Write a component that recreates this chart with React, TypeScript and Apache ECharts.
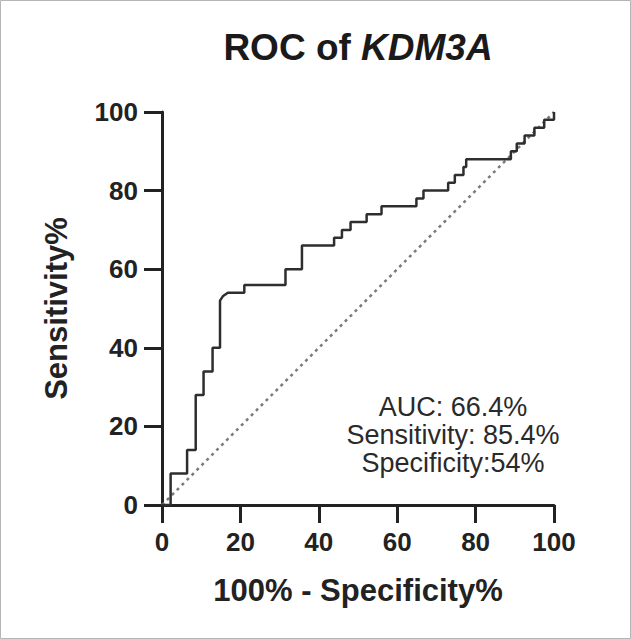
import React, { useEffect, useRef } from "react";
import * as echarts from "echarts";

const titlePlain = "ROC of ";
const titleGene = "KDM3A";
const xAxisName = "100% - Specificity%";
const yAxisName = "Sensitivity%";
const annotationLines = ["AUC: 66.4%", "Sensitivity: 85.4%", "Specificity:54%"];

// ROC curve vertices (100% - Specificity%, Sensitivity%)
const rocFpr = [
  0, 2.2, 2.2, 6.4, 6.4, 8.6, 8.6, 10.6, 10.6, 12.9, 12.9, 14.8, 14.8, 15.6, 16.8,
  21, 21, 31.5, 31.5, 35.7, 35.7, 43.9, 43.9, 45.9, 45.9, 48.1, 48.1, 52.2, 52.2,
  56, 56, 64.9, 64.9, 66.7, 66.7, 73, 73, 74.7, 74.7, 76.9, 76.9, 77.6, 77.6, 89,
  89, 90.5, 90.5, 92.5, 92.5, 95, 95, 97.5, 97.5, 100, 100,
];
const rocSens = [
  0, 0, 8, 8, 14, 14, 28, 28, 34, 34, 40, 40, 52, 53.2, 54,
  54, 56, 56, 60, 60, 66, 66, 68, 68, 70, 70, 72, 72, 74,
  74, 76, 76, 78, 78, 80, 80, 82, 82, 84, 84, 86, 86, 88, 88,
  90, 90, 92, 92, 94, 94, 96, 96, 98, 98, 100,
];
const identityFpr = [0, 100];
const identitySens = [0, 100];

const FONT = "'Liberation Sans', Arial, Helvetica, sans-serif";

export default function App() {
  const ref = useRef<HTMLDivElement>(null);
  useEffect(() => {
    if (!ref.current) return;
    const chart = echarts.init(ref.current, undefined, { renderer: "svg" });
    const axisCommon = {
      type: "value" as const,
      min: 0,
      max: 100,
      interval: 20,
      nameLocation: "middle" as const,
      nameTextStyle: { fontFamily: FONT, fontSize: 31, fontWeight: "bold" as const, color: "#222" },
      axisLine: { show: true, lineStyle: { color: "#222", width: 3 } },
      axisTick: { show: true, inside: false, length: 18, lineStyle: { color: "#222", width: 3 } },
      axisLabel: { fontFamily: FONT, fontSize: 26, fontWeight: "bold" as const, color: "#222", margin: 24 },
      splitLine: { show: false },
    };
    chart.setOption({
      animation: false,
      backgroundColor: "#ffffff",
      grid: { left: 162, right: 77, top: 112, bottom: 134 },
      xAxis: { ...axisCommon, name: xAxisName, nameGap: 70 },
      yAxis: { ...axisCommon, name: yAxisName, nameGap: 90, nameRotate: 90 },
      series: [
        {
          type: "line",
          data: identityFpr.map((x, i) => [x, identitySens[i]]),
          showSymbol: false,
          lineStyle: { color: "#7a7a7a", width: 2.5, type: [3, 4] },
          z: 1,
        },
        {
          type: "line",
          data: rocFpr.map((x, i) => [x, rocSens[i]]),
          showSymbol: false,
          lineStyle: { color: "#2e2e2e", width: 2.5 },
          z: 2,
        },
      ],
      graphic: [
        {
          type: "rect",
          shape: { x: 0.5, y: 0.5, width: 630, height: 638 },
          style: { fill: "none", stroke: "#b5b5b5", lineWidth: 1 },
          silent: true,
        },
        {
          type: "text",
          x: 358,
          y: 47,
          style: {
            text: `{a|${titlePlain}}{b|${titleGene}}`,
            align: "center",
            verticalAlign: "middle",
            rich: {
              a: { fontFamily: FONT, fontSize: 37, fontWeight: "bold", fill: "#1a1a1a" },
              b: { fontFamily: FONT, fontSize: 37, fontWeight: "bold", fontStyle: "italic", fill: "#1a1a1a" },
            },
          },
        },
        {
          type: "text",
          x: 453,
          y: 435,
          style: {
            text: annotationLines.join("\n"),
            align: "center",
            verticalAlign: "middle",
            fontFamily: FONT,
            fontSize: 27,
            lineHeight: 28,
            fill: "#2a2a2a",
          },
        },
      ],
    });
    return () => chart.dispose();
  }, []);
  return (
    <div
      ref={ref}
      style={{ position: "fixed", left: 0, top: 0, width: 631, height: 639, background: "#fff" }}
    />
  );
}
